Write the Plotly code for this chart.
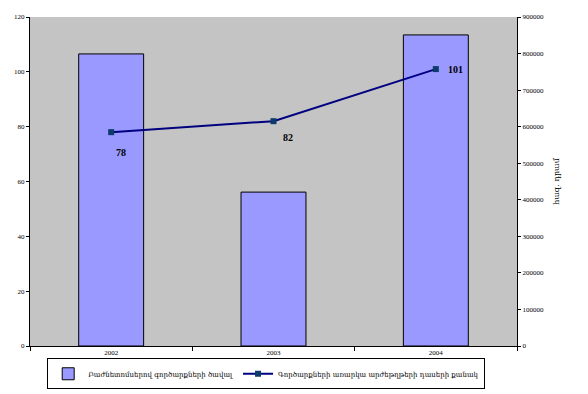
import plotly.graph_objects as go

years = ["2002", "2003", "2004"]
volume = [799000, 421000, 851000]          # thousand dram (right axis)
classes = [78, 82, 101]                    # count (left axis)
bar_name = "Բաժնետոմսերով գործարքների ծավալ"
line_name = "Գործարքների առարկա արժեթղթերի դասերի քանակ"
right_title = "հազ. դրամ"

fig = go.Figure()
fig.add_trace(go.Bar(
    x=years, y=volume, name=bar_name, yaxis="y",
    marker=dict(color="#9999ff", line=dict(color="black", width=1)),
))
fig.add_trace(go.Scatter(
    x=years, y=classes, name=line_name, yaxis="y2", mode="lines+markers",
    line=dict(color="#000080", width=2),
    marker=dict(symbol="square", size=6, color="#0b3a6b"),
))

shifts = [(10, -20), (14, -16), (20, 0)]
for i, (y, (dx, dy)) in enumerate(zip(classes, shifts)):
    fig.add_annotation(x=i, xref="x", y=y, yref="y2", text="<b>%d</b>" % y, showarrow=False,
                       xshift=dx, yshift=dy,
                       font=dict(family="Liberation Serif", size=10, color="black"))

tickfont = dict(family="Liberation Serif", size=7, color="black")
fig.update_layout(
    width=588, height=394,
    margin=dict(l=30, r=71, t=17, b=48, autoexpand=False),
    paper_bgcolor="white",
    plot_bgcolor="#c4c4c4",
    bargap=0.6,
    showlegend=True,
    xaxis=dict(type="category", range=[-0.5, len(years) - 0.5], showline=True,
               linecolor="black", linewidth=1, automargin=False,
               ticks="outside", tickson="boundaries", ticklen=4, tickcolor="black",
               tickfont=tickfont, showgrid=False, zeroline=False, tickangle=0),
    yaxis=dict(side="right", range=[0, 900000], dtick=100000, showline=True,
               linecolor="black", linewidth=1, ticks="outside", ticklen=3,
               tickcolor="black", tickfont=tickfont, showgrid=False, zeroline=False,
               tickformat="d", automargin=False,
               title=dict(text=right_title, standoff=10,
                          font=dict(family="DejaVu Serif", size=8, color="black"))),
    yaxis2=dict(side="left", overlaying="y", range=[0, 120], dtick=20, showline=True,
                linecolor="black", linewidth=1, ticks="outside", ticklen=3,
                tickcolor="black", tickfont=tickfont, showgrid=False, zeroline=False,
                automargin=False),
    legend=dict(orientation="h", x=0.485, xanchor="center", y=0.012, yref="container",
                yanchor="bottom",
                bordercolor="black", borderwidth=1, bgcolor="white",
                font=dict(family="DejaVu Serif", size=7, color="black"),
                itemwidth=30, tracegroupgap=0),
)

fig.write_html("out.html")
